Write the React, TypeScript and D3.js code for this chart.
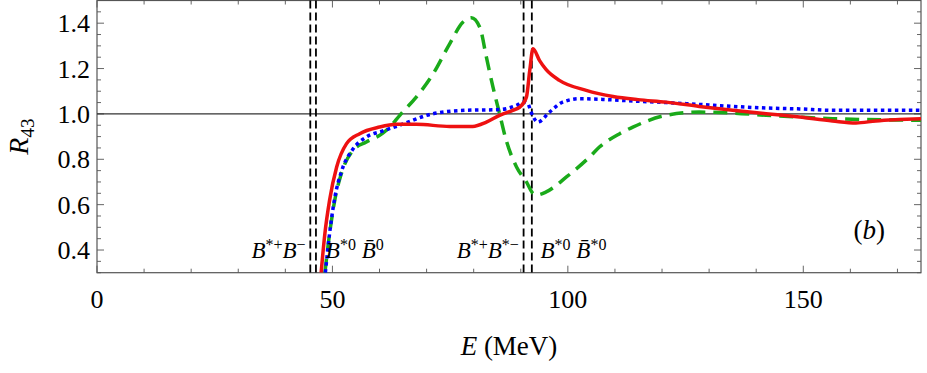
import React, { useEffect, useRef } from 'react';
import * as d3 from 'd3';

// curves (E in MeV, R43)
const redE = [47.6, 48.4, 49.4, 50.9, 53.0, 55.8, 60.0, 63.6, 67.8, 74.9, 79.8, 82.7, 85.5, 88.3, 89.8, 91.2, 91.9, 92.6, 94.0, 95.4, 98.2, 103.9, 109.6, 114.9, 120.9, 127.9, 135, 142.1, 149.2, 156.2, 161.2, 165.4, 170.4, 175];
const redR = [0.3, 0.473, 0.62, 0.766, 0.869, 0.913, 0.942, 0.954, 0.954, 0.945, 0.945, 0.964, 0.994, 1.016, 1.03, 1.074, 1.19, 1.287, 1.235, 1.195, 1.148, 1.104, 1.077, 1.063, 1.052, 1.033, 1.016, 1.001, 0.986, 0.969, 0.96, 0.969, 0.975, 0.979];

const greenE = [48.4, 49.4, 50.5, 51.9, 54.4, 57.2, 60.7, 62.2, 64.3, 67.8, 71.4, 74.9, 77.7, 79.5, 81.3, 82.7, 84.1, 85.5, 86.9, 89.1, 91.2, 92.6, 93.3, 95.4, 99.7, 104.6, 106.7, 111, 113.8, 120.9, 127.9, 135, 142.1, 149.2, 156.2, 163.3, 175];
const greenR = [0.3, 0.473, 0.62, 0.737, 0.84, 0.876, 0.915, 0.942, 0.994, 1.074, 1.177, 1.309, 1.404, 1.424, 1.382, 1.25, 1.118, 1.001, 0.884, 0.766, 0.7, 0.649, 0.642, 0.656, 0.722, 0.81, 0.854, 0.913, 0.942, 0.994, 1.008, 1.004, 0.994, 0.986, 0.979, 0.975, 0.972];

const blueE = [48.5, 49.4, 50.5, 51.9, 54.4, 57.2, 60.7, 64.3, 71.4, 78.4, 85.5, 89.1, 90.5, 91.5, 92.2, 93.6, 96.1, 98.9, 102.5, 107.4, 113.8, 120.9, 127.9, 135, 142.1, 149.2, 156.2, 163.3, 175];
const blueR = [0.3, 0.473, 0.63, 0.745, 0.846, 0.898, 0.925, 0.95, 1.001, 1.016, 1.019, 1.038, 1.052, 1.045, 1.008, 0.964, 1.008, 1.052, 1.067, 1.064, 1.057, 1.05, 1.042, 1.033, 1.026, 1.022, 1.016, 1.016, 1.016];

// thresholds (MeV)
const thresholds = [45.3, 46.5, 90.6, 92.35];

const xTicks = [0, 50, 100, 150];
const yTicks = [0.4, 0.6, 0.8, 1.0, 1.2, 1.4];

const FONT = "'Liberation Serif', 'DejaVu Serif', 'Times New Roman', serif";

const App = () => {
  const svgRef = useRef<SVGSVGElement>(null);

  useEffect(() => {
    document.body.style.margin = '0';
    renderChart();
  }, []);

  const renderChart = () => {
    const W = 927;
    const H = 373;
    const margin = { top: 0.5, right: 6, bottom: 100.3, left: 97 };
    const width = W - margin.left - margin.right;
    const height = H - margin.top - margin.bottom;

    const svg = d3.select(svgRef.current);
    svg.selectAll('*').remove();

    const g = svg.append('g').attr('transform', `translate(${margin.left},${margin.top})`);

    const x = d3.scaleLinear().domain([0, 175]).range([0, width]);
    const y = d3.scaleLinear().domain([0.3, 1.5]).range([height, 0]);

    svg.append('defs').append('clipPath').attr('id', 'plotclip')
      .append('rect').attr('x', 0).attr('y', 0).attr('width', width).attr('height', height);

    // ticks (inward, all four sides)
    const tickColor = '#666';
    const xMinor = d3.range(0, 176, 10);
    const yMinor = d3.range(0.3, 1.5001, 0.05).map(v => Math.round(v * 100) / 100);
    xMinor.forEach(v => {
      const len = v % 50 === 0 ? 7 : 4;
      g.append('line').attr('x1', x(v)).attr('x2', x(v)).attr('y1', height).attr('y2', height - len)
        .attr('stroke', tickColor).attr('stroke-width', 1);
      g.append('line').attr('x1', x(v)).attr('x2', x(v)).attr('y1', 0).attr('y2', len)
        .attr('stroke', tickColor).attr('stroke-width', 1);
    });
    yMinor.forEach(v => {
      const major = Math.abs(Math.round(v * 5) - v * 5) < 1e-6;
      const len = major ? 7 : 4;
      g.append('line').attr('x1', 0).attr('x2', len).attr('y1', y(v)).attr('y2', y(v))
        .attr('stroke', tickColor).attr('stroke-width', 1);
      g.append('line').attr('x1', width).attr('x2', width - len).attr('y1', y(v)).attr('y2', y(v))
        .attr('stroke', tickColor).attr('stroke-width', 1);
    });

    // tick labels
    g.selectAll('.xl').data(xTicks).enter().append('text')
      .attr('x', d => x(d)).attr('y', height + 35)
      .attr('text-anchor', 'middle')
      .attr('font-size', 26)
      .text(d => d);
    g.selectAll('.yl').data(yTicks).enter().append('text')
      .attr('x', -7).attr('y', d => y(d) + 9)
      .attr('text-anchor', 'end')
      .attr('font-size', 26)
      .text(d => d.toFixed(1));

    // frame
    g.append('rect').attr('x', 0).attr('y', 0).attr('width', width).attr('height', height)
      .attr('fill', 'none').attr('stroke', '#555').attr('stroke-width', 1.2);

    // reference line at 1
    g.append('line').attr('x1', 0).attr('x2', width).attr('y1', y(1)).attr('y2', y(1))
      .attr('stroke', '#333').attr('stroke-width', 1.3);

    // threshold lines
    thresholds.forEach(t => {
      g.append('line').attr('x1', x(t)).attr('x2', x(t)).attr('y1', 0).attr('y2', height)
        .attr('stroke', '#000').attr('stroke-width', 1.8).attr('stroke-dasharray', '8,4');
    });

    const plot = g.append('g').attr('clip-path', 'url(#plotclip)');
    const line = d3.line<[number, number]>()
      .x(d => x(d[0]))
      .y(d => y(d[1]))
      .curve(d3.curveMonotoneX);

    plot.append('path').datum(greenE.map((e, i) => [e, greenR[i]] as [number, number]))
      .attr('fill', 'none').attr('stroke', '#1aaa1a').attr('stroke-width', 3.5)
      .attr('stroke-dasharray', '14,8').attr('d', line);
    plot.append('path').datum(blueE.map((e, i) => [e, blueR[i]] as [number, number]))
      .attr('fill', 'none').attr('stroke', '#0000ff').attr('stroke-width', 3.5)
      .attr('stroke-dasharray', '3.5,3.5').attr('d', line);
    plot.append('path').datum(redE.map((e, i) => [e, redR[i]] as [number, number]))
      .attr('fill', 'none').attr('stroke', '#ee1111').attr('stroke-width', 3.5)
      .attr('d', line);

    // threshold labels
    const addLabel = (xpos: number, anchor: string, parts: [string, boolean][]) => {
      const t = g.append('text').attr('x', xpos).attr('y', 257).attr('text-anchor', anchor)
        .attr('font-size', 23);
      parts.forEach(([s, sup]) => {
        const ts = t.append('tspan').text(s);
        if (sup) ts.attr('dy', -8).attr('font-size', 16);
        else ts.attr('font-style', 'italic').attr('dy', 8);
      });
      t.select('tspan').attr('dy', 0);
    };
    addLabel(x(44.3), 'end', [['B', false], ['*+', true], ['B', false], ['\u2212', true]]);
    addLabel(x(48.6), 'start', [['B', false], ['*0', true], [' B\u0304', false], ['0', true]]);
    addLabel(x(89.6), 'end', [['B', false], ['*+', true], ['B', false], ['*\u2212', true]]);
    addLabel(x(94.2), 'start', [['B', false], ['*0', true], [' B\u0304', false], ['*0', true]]);

    // panel tag
    const tag = g.append('text').attr('x', x(164)).attr('y', 238).attr('text-anchor', 'middle')
      .attr('font-size', 27);
    tag.append('tspan').text('(');
    tag.append('tspan').attr('font-style', 'italic').text('b');
    tag.append('tspan').text(')');

    // axis titles
    const xt = svg.append('text').attr('x', margin.left + width / 2).attr('y', 355)
      .attr('text-anchor', 'middle').attr('font-size', 27);
    xt.append('tspan').attr('font-style', 'italic').text('E');
    xt.append('tspan').text(' (MeV)');

    const yt = svg.append('text').attr('transform', `translate(28,${margin.top + height / 2}) rotate(-90)`)
      .attr('text-anchor', 'middle').attr('font-size', 28);
    yt.append('tspan').attr('font-style', 'italic').text('R');
    yt.append('tspan').attr('dy', 6).attr('font-size', 19).text('43');
  };

  return (
    <svg ref={svgRef} width={927} height={373} fontFamily={FONT}
      style={{ display: 'block', background: '#fff' }} />
  );
};

export default App;
